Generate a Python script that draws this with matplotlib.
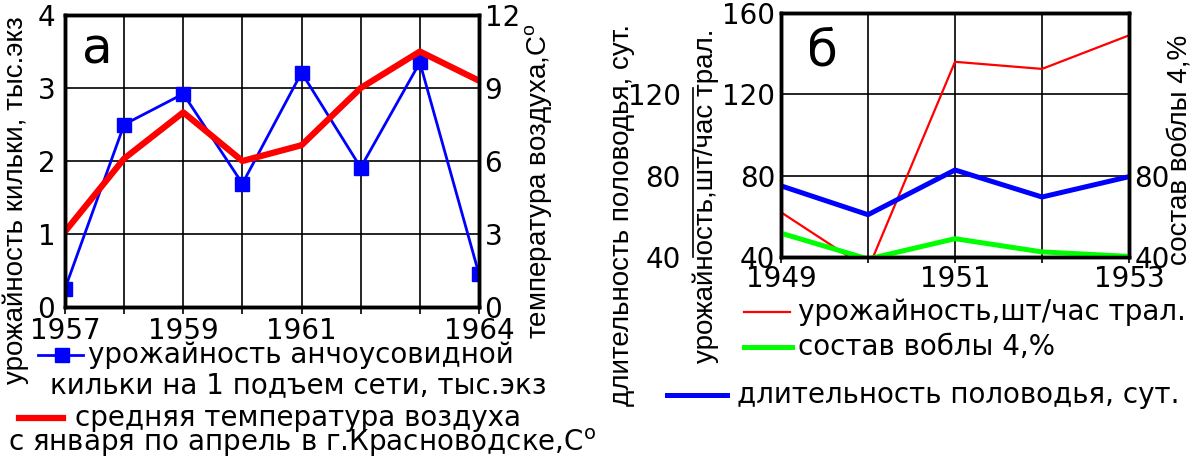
import numpy as np
import matplotlib
matplotlib.use("Agg")
import matplotlib.pyplot as plt
from matplotlib.lines import Line2D

plt.rcParams['font.family'] = ['DejaVu Sans']
plt.rcParams['mathtext.default'] = 'regular'

# panel "а": kilka catch and air temperature
years_a = [1957, 1958, 1959, 1960, 1961, 1962, 1963, 1964]
kilka = [0.25, 2.50, 2.92, 1.69, 3.21, 1.91, 3.35, 0.45]
temp = [3.1, 6.1, 8.0, 6.0, 6.65, 9.0, 10.5, 9.3]
labels_a = [1957, 1959, 1961, 1964]

# panel "б": catch, vobla share, flood duration
years_b = [1949, 1950, 1951, 1952, 1953]
catch_b = [62.0, 34.0, 136.0, 132.5, 149.0]
vobla = [51.7, 39.0, 49.0, 42.5, 40.3]
flood = [75.0, 60.8, 82.8, 69.5, 79.5]
labels_b = [1949, 1951, 1953]

W, H = 1195, 457
FS = 20
narrow = ['Liberation Sans', 'DejaVu Sans']

fig = plt.figure(figsize=(W / 100, H / 100), dpi=100)
fig.patch.set_facecolor('white')

def fx(x):
    return x / W

def fy(y):
    return 1 - y / H

def frame(ax, lw=2.5):
    for s in ax.spines.values():
        s.set_linewidth(lw)

# ---------- panel a ----------
ax1 = fig.add_axes([fx(65), fy(307), 414 / W, 292 / H])
ax1.plot(years_a, kilka, color='#0000ff', lw=2, marker='s', ms=10)
ax1.set_xlim(1957, 1964)
ax1.set_ylim(0, 4)
ax1.set_yticks([0, 1, 2, 3, 4])
ax1.set_xticks(years_a)
ax1.set_xticklabels([str(y) if y in labels_a else '' for y in years_a])
ax1.grid(color='black', lw=1.2)
ax1.set_axisbelow(True)
ax1.tick_params(axis='x', direction='out', length=5, width=1.2, labelsize=FS, pad=2)
ax1.tick_params(axis='y', length=0, labelsize=FS, pad=7)
frame(ax1)

ax1t = ax1.twinx()
ax1t.plot(years_a, temp, color='#ff0000', lw=4.5)
ax1t.set_ylim(0, 12)
ax1t.set_yticks([0, 3, 6, 9, 12])
ax1t.tick_params(axis='y', length=0, labelsize=FS, pad=4)
frame(ax1t)

fig.text(fx(97), fy(50), 'а', fontsize=36, ha='center', va='center')
fig.text(fx(16), fy(200), 'урожайность кильки, тыс.экз', rotation=90,
         ha='center', va='center', fontsize=FS, family=narrow)
fig.text(fx(539), fy(181), 'температура воздуха,С$^{o}$', rotation=90,
         ha='center', va='center', fontsize=FS, family=narrow)

# legend a
fig.add_artist(Line2D([fx(38), fx(83)], [fy(355), fy(355)], color='#0000ff', lw=2,
                      transform=fig.transFigure))
fig.add_artist(Line2D([fx(62)], [fy(355)], color='#0000ff', marker='s', ms=10,
                      transform=fig.transFigure))
fig.text(fx(88), fy(355), 'урожайность анчоусовидной', fontsize=FS, va='center')
fig.text(fx(50), fy(385), 'кильки на 1 подъем сети, тыс.экз', fontsize=FS, va='center')
fig.add_artist(Line2D([fx(19), fx(63)], [fy(418), fy(418)], color='#ff0000', lw=4.5,
                      transform=fig.transFigure))
fig.text(fx(75), fy(418), 'средняя температура воздуха', fontsize=FS, va='center')
fig.text(fx(8), fy(443), 'с января по апрель в г.Красноводске,С$^{o}$', fontsize=FS,
         va='center')

# ---------- panel b ----------
ax2 = fig.add_axes([fx(781), fy(257), 348 / W, 244 / H])
ax2.plot(years_b, catch_b, color='#ff0000', lw=1.6)
ax2.set_xlim(1949, 1953)
ax2.set_ylim(40, 160)
ax2.set_yticks([40, 80, 120, 160])
ax2.set_xticks(years_b)
ax2.set_xticklabels([str(y) if y in labels_b else '' for y in years_b])
ax2.grid(color='black', lw=1.2)
ax2.set_axisbelow(True)
ax2.tick_params(axis='x', direction='out', length=4, width=1.2, labelsize=FS, pad=2)
ax2.tick_params(axis='y', length=0, labelsize=FS, pad=4)
frame(ax2)

ax2o = ax2.twinx()
ax2o.plot(years_b, flood, color='#0000ff', lw=3.6)
ax2o.set_ylim(40, 160)
for s in ['top', 'bottom', 'right']:
    ax2o.spines[s].set_visible(False)
ax2o.spines['left'].set_position(('axes', (693 - 781) / 348))
ax2o.spines['left'].set_bounds(40, 123)
ax2o.spines['left'].set_linewidth(1.2)
ax2o.yaxis.set_ticks_position('left')
ax2o.set_yticks([40, 80, 120])
ax2o.tick_params(axis='y', length=0, labelsize=FS, pad=9)

ax2r = ax2.twinx()
ax2r.plot(years_b, vobla, color='#00ff00', lw=3.6)
ax2r.set_ylim(40, 160)
ax2r.set_yticks([40, 80])
ax2r.tick_params(axis='y', length=0, labelsize=FS, pad=4)
frame(ax2r)

fig.text(fx(822), fy(52), 'б', fontsize=36, ha='center', va='center')
fig.text(fx(622), fy(215), 'длительность половодья, сут.', rotation=90,
         ha='center', va='center', fontsize=FS, family=narrow)
fig.text(fx(706), fy(196), 'урожайность,шт/час трал.', rotation=90,
         ha='center', va='center', fontsize=FS, family=narrow)
fig.text(fx(1180), fy(150), 'состав воблы 4,%', rotation=90,
         ha='center', va='center', fontsize=FS, family=narrow)

# legend b
fig.add_artist(Line2D([fx(744), fx(790)], [fy(312), fy(312)], color='#ff0000', lw=1.6,
                      transform=fig.transFigure))
fig.text(fx(798), fy(312), 'урожайность,шт/час трал.', fontsize=FS, va='center')
fig.add_artist(Line2D([fx(744), fx(792)], [fy(347), fy(347)], color='#00ff00', lw=3.6,
                      transform=fig.transFigure))
fig.text(fx(798), fy(347), 'состав воблы 4,%', fontsize=FS, va='center')
fig.add_artist(Line2D([fx(667), fx(727)], [fy(395), fy(395)], color='#0000ff', lw=3.6,
                      transform=fig.transFigure))
fig.text(fx(737), fy(395), 'длительность половодья, сут.', fontsize=FS, va='center')

fig.savefig('out.png', dpi=100, facecolor='white')
